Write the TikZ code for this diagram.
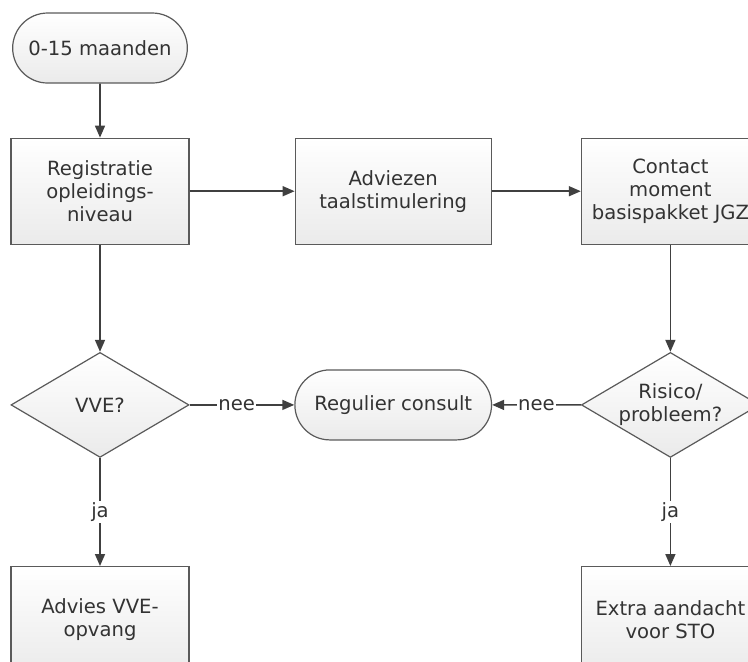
\documentclass[tikz,border=0pt]{standalone}
\usepackage{fontspec}
\setmainfont{DejaVu Sans}
\usetikzlibrary{positioning,shapes.geometric,shapes.misc,arrows.meta}
\definecolor{linegray}{HTML}{404040}
\definecolor{bordergray}{HTML}{5A5A5A}
\definecolor{textgray}{HTML}{333333}

\begin{document}
\begin{tikzpicture}[
    font=\fontsize{9.8}{11.5}\selectfont,
    text=textgray,
    block/.style={rectangle, draw=bordergray, line width=0.6pt, top color=white, bottom color=black!8, minimum width=89pt, minimum height=53pt, align=center},
    wide/.style={minimum width=98pt},
    terminal/.style={rounded rectangle, draw=bordergray, line width=0.6pt, top color=white, bottom color=black!8, minimum width=94pt, minimum height=35pt, align=center},
    decision/.style={diamond, draw=bordergray, line width=0.6pt, top color=white, bottom color=black!8, aspect=1.7, inner sep=0pt, minimum width=89pt, minimum height=52.5pt, align=center},
    arrow/.style={-{Triangle[length=6pt,width=5pt]}, draw=linegray, line width=0.8pt},
    answer/.style={fill=white, inner sep=0.6pt}
]
    \clip (0,0) rectangle (374pt,-330.5pt);

    \node[terminal] (start) at (50pt,-24pt) {0-15 maanden};

    \node[block, below=27pt of start] (reg) {Registratie\\opleidings-\\niveau};

    \node[block, wide, right=52.5pt of reg] (adv) {Adviezen\\taalstimulering};

    \node[block, right=44.5pt of adv] (con) {Contact\\moment\\basispakket JGZ};

    \node[decision, below=53.5pt of reg] (vve) {VVE?};

    \node[decision, below=53.5pt of con] (risk) {Risico/\\probleem?};

    \node[terminal, minimum width=105pt] (regular) at (adv |- vve) {Regulier consult};

    \node[block, below=54pt of vve] (advies) {Advies VVE-\\opvang};

    \node[block, below=54pt of risk] (extra) {Extra aandacht\\voor STO};

    \draw[arrow] (start) -- (reg);
    \draw[arrow] (reg) -- (adv);
    \draw[arrow] (adv) -- (con);
    \draw[arrow] (reg) -- (vve);
    \draw[arrow] (con) -- (risk);

    \draw[arrow] (vve) -- node[answer, pos=0.45] {nee} (regular);
    \draw[arrow] (risk) -- node[answer] {nee} (regular);
    \draw[arrow] (vve) -- node[answer] {ja} (advies);
    \draw[arrow] (risk) -- node[answer] {ja} (extra);
\end{tikzpicture}
\end{document}
